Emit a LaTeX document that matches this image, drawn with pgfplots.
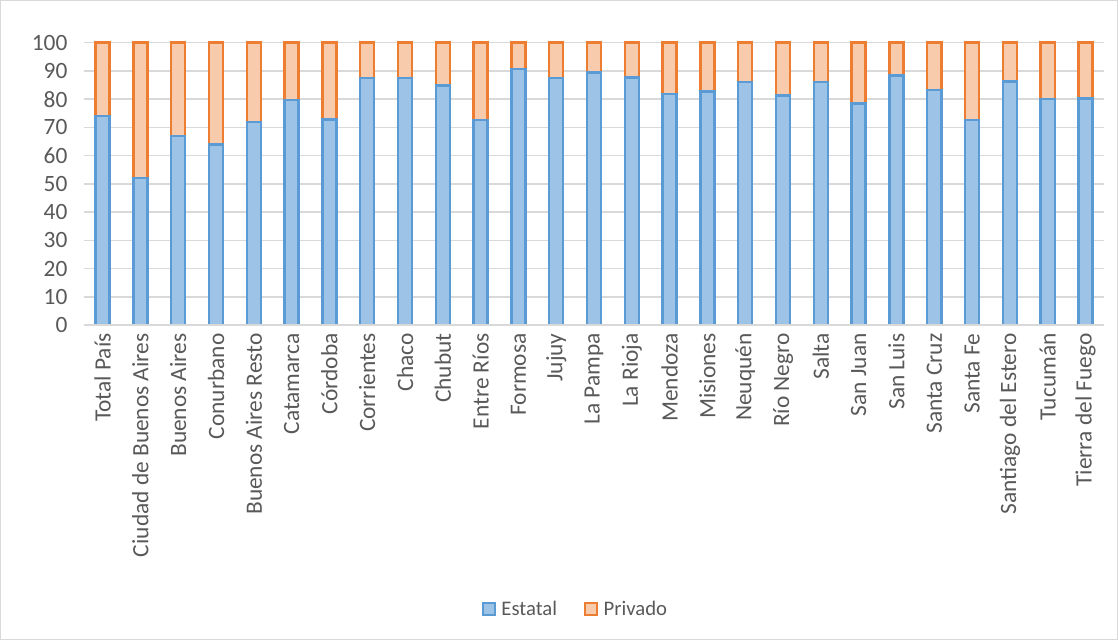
\documentclass[border=0pt]{standalone}
\usepackage{fontspec}
\setmainfont{Carlito}
\usepackage{pgfplots}
\usepackage{pgfplotstable}
\pgfplotsset{compat=1.18}
\definecolor{estfill}{HTML}{9DC3E6}
\definecolor{estline}{HTML}{5B9BD5}
\definecolor{prifill}{HTML}{F8CBAD}
\definecolor{priline}{HTML}{ED7D31}
\definecolor{gridc}{HTML}{D9D9D9}
\definecolor{txt}{HTML}{595959}

% estatal / privado (percent)
\pgfplotstableread{
x estatal privado
0  74.1 25.9
1  52.1 47.9
2  67.0 33.0
3  64.0 36.0
4  72.0 28.0
5  79.6 20.4
6  72.8 27.2
7  87.4 12.6
8  87.4 12.6
9  84.9 15.1
10 72.6 27.4
11 90.6 9.4
12 87.4 12.6
13 89.5 10.5
14 87.7 12.3
15 81.9 18.1
16 82.7 17.3
17 86.1 13.9
18 81.3 18.7
19 86.0 14.0
20 78.4 21.6
21 88.3 11.7
22 83.3 16.7
23 72.7 27.3
24 86.3 13.7
25 80.0 20.0
26 80.2 19.8
}\datatable

\begin{document}
\begin{tikzpicture}
\begin{axis}[
    scale only axis,
    width=764pt, height=211.5pt,
    ybar stacked,
    bar width=10.5pt,
    xmin=-0.5, xmax=26.5,
    ymin=0, ymax=100,
    ytick={0,10,...,100},
    xtick=data,
    xticklabels={Total País, Ciudad de Buenos Aires, Buenos Aires, Conurbano, Buenos Aires Resto, Catamarca, Córdoba, Corrientes, Chaco, Chubut, Entre Ríos, Formosa, Jujuy, La Pampa, La Rioja, Mendoza, Misiones, Neuquén, Río Negro, Salta, San Juan, San Luis, Santa Cruz, Santa Fe, Santiago del Estero, Tucumán, Tierra del Fuego},
    x tick label style={rotate=90, anchor=east, inner sep=0pt, xshift=-6pt},
    y tick label style={inner sep=0pt, xshift=-12pt},
    /pgf/number format/assume math mode=true,
    tick label style={font=\fontsize{17.5}{20}\selectfont, text=txt},
    major tick length=0pt,
    ymajorgrids=true,
    grid style={gridc, line width=1.1pt},
    axis line style={draw=none},
    legend style={
        at={(0.482,-1.004)}, anchor=center,
        draw=none, fill=none,
        legend columns=2,
        font=\fontsize{15.5}{18}\selectfont,
        text=txt,
        /tikz/every odd column/.append style={column sep=2pt},
        /tikz/every even column/.append style={column sep=18pt},
    },
    legend image code/.code={
        \draw[#1] (0pt,-4.5pt) rectangle (9pt,4.5pt);
    },
    clip=false,
]
\draw[gridc, line width=1.1pt] (axis description cs:0,0) -- (axis description cs:1,0);
\addplot[fill=estfill, draw=estline, line width=1.8pt] table[x=x, y=estatal] {\datatable};
\addlegendentry{Estatal}
\addplot[fill=prifill, draw=priline, line width=1.8pt] table[x=x, y=privado] {\datatable};
\addlegendentry{Privado}
\draw[gridc, line width=0.8pt] (axis description cs:-0.0815,1.149) rectangle (axis description cs:1.0128,-1.113);
\end{axis}
\end{tikzpicture}
\end{document}
